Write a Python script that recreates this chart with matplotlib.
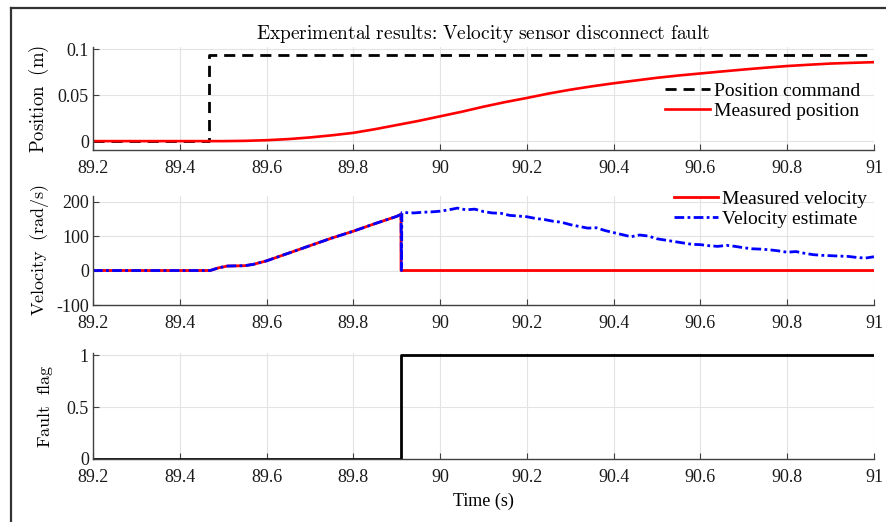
import matplotlib
matplotlib.use("Agg")
import matplotlib.pyplot as plt
from matplotlib.lines import Line2D

plt.rcParams['font.family'] = ['Liberation Serif', 'DejaVu Serif']
plt.rcParams['mathtext.fontset'] = 'cm'

# ---------------- data ----------------
cmd_t = [89.2, 89.468, 89.468, 91.0]
cmd_pos = [0.0, 0.0, 0.0937, 0.0937]

pos_t = [89.2, 89.5, 89.55, 89.6, 89.65, 89.7, 89.75, 89.8, 89.85, 89.9, 89.95,
         90.0, 90.05, 90.1, 90.15, 90.2, 90.25, 90.3, 90.35, 90.4, 90.45, 90.5,
         90.55, 90.6, 90.65, 90.7, 90.75, 90.8, 90.85, 90.9, 90.95, 91.0]
pos_meas = [0.0, 0.0, 0.0003, 0.001, 0.0022, 0.004, 0.0063, 0.009, 0.013, 0.0175, 0.022,
            0.027, 0.032, 0.0375, 0.0425, 0.047, 0.0518, 0.056, 0.0597, 0.063, 0.066, 0.069,
            0.0715, 0.0737, 0.0759, 0.078, 0.080, 0.0818, 0.0832, 0.0845, 0.0853, 0.086]

vel_meas_t = [89.2, 89.47, 89.49, 89.51, 89.55, 89.57, 89.6, 89.65, 89.7, 89.75, 89.8,
              89.85, 89.9, 89.91, 89.91, 91.0]
vel_meas = [0, 0, 8, 13, 14, 18, 28, 50, 72, 94, 114, 136, 157, 163, 0, 0]

vel_est_t = [89.2, 89.47, 89.49, 89.51, 89.55, 89.57, 89.6, 89.65, 89.7, 89.75, 89.8,
             89.85, 89.9, 89.91, 89.911, 89.912,
             89.92, 89.94, 89.96, 89.98, 90.00, 90.02, 90.04, 90.06, 90.08, 90.10,
             90.12, 90.14, 90.16, 90.18, 90.20, 90.22, 90.24, 90.26, 90.28, 90.30,
             90.32, 90.34, 90.36, 90.38, 90.40, 90.42, 90.44, 90.46, 90.48, 90.50,
             90.52, 90.54, 90.56, 90.58, 90.60, 90.62, 90.64, 90.66, 90.68, 90.70,
             90.72, 90.74, 90.76, 90.78, 90.80, 90.82, 90.84, 90.86, 90.88, 90.90,
             90.92, 90.94, 90.96, 90.98, 91.00]
vel_est = [0, 0, 8, 13, 14, 18, 28, 50, 72, 94, 114, 136, 157, 163, 0, 168,
           168, 167, 169, 170, 172, 176, 181, 176, 178, 171,
           167, 166, 160, 158, 156, 151, 148, 143, 140, 133,
           128, 123, 124, 116, 110, 104, 98, 103, 100, 92,
           88, 84, 80, 76, 75, 72, 70, 73, 70, 66,
           63, 62, 60, 57, 53, 55, 50, 46, 44, 43,
           42, 41, 38, 36, 40]

flag_t = [89.2, 89.91, 89.91, 91.0]
flag = [0, 0, 1, 1]

xticks = [89.2, 89.4, 89.6, 89.8, 90.0, 90.2, 90.4, 90.6, 90.8, 91.0]
xticklabels = ['89.2', '89.4', '89.6', '89.8', '90', '90.2', '90.4', '90.6', '90.8', '91']

# ---------------- figure ----------------
fig = plt.figure(figsize=(8.87, 5.22), dpi=100)
fig.patch.set_facecolor('white')

L, W = 0.1048, 0.8805
ax1 = fig.add_axes([L, 0.7126, W, 0.1973])
ax2 = fig.add_axes([L, 0.4157, W, 0.2094])
ax3 = fig.add_axes([L, 0.1207, W, 0.2030])

spine_c = '#404040'
for ax in (ax1, ax2, ax3):
    ax.set_xlim(89.2, 91.0)
    ax.set_xticks(xticks)
    ax.set_xticklabels(xticklabels)
    for s in ('top', 'right'):
        ax.spines[s].set_visible(False)
    for s in ('left', 'bottom'):
        ax.spines[s].set_color(spine_c)
        ax.spines[s].set_linewidth(1.0)
    ax.tick_params(direction='in', length=4, width=0.8, colors=spine_c,
                   labelcolor='#1a1a1a', labelsize=13)
    ax.tick_params(axis='x', pad=7)
    ax.tick_params(axis='y', pad=3)
    ax.grid(True, color='#e3e3e3', linewidth=0.8)
    ax.set_axisbelow(True)

# Top
ax1.plot(cmd_t, cmd_pos, color='black', linestyle=(0, (4, 2.5)), linewidth=2.0,
         label='Position command')
ax1.plot(pos_t, pos_meas, color='red', linewidth=1.9, label='Measured position')
ax1.set_ylim(-0.0097, 0.1025)
ax1.set_yticks([0, 0.05, 0.1])
ax1.set_yticklabels(['0', '0.05', '0.1'])
ax1.set_ylabel(r'$\mathrm{Position\ \ (m)}$', fontsize=13.5)
ax1.yaxis.set_label_coords(-0.054, 0.5)
ax1.set_title(r'$\mathrm{Experimental\ results}$:$\ \mathrm{Velocity\ sensor\ disconnect\ fault}$',
              fontsize=14, pad=6)
ax1.legend(loc='upper right', bbox_to_anchor=(0.985, 0.868), bbox_transform=fig.transFigure,
           frameon=False, fontsize=14, handlelength=2.3, handletextpad=0.2,
           labelspacing=0.1, borderpad=0.2)

# Middle
ax2.plot(vel_meas_t, vel_meas, color='red', linewidth=2.0, label='Measured velocity')
ax2.plot(vel_est_t, vel_est, color='blue', linestyle=(0, (3.5, 1.2, 1, 1.2)), linewidth=2.0,
         label='Velocity estimate')
ax2.set_ylim(-100, 217)
ax2.set_yticks([-100, 0, 100, 200])
ax2.set_yticklabels(['-100', '0', '100', '200'])
ax2.set_ylabel(r'$\mathrm{Velocity\ \ (rad/s)}$', fontsize=13)
ax2.yaxis.set_label_coords(-0.054, 0.5)
ax2.legend(loc='upper right', bbox_to_anchor=(0.993, 0.661), bbox_transform=fig.transFigure,
           frameon=False, fontsize=14, handlelength=2.3, handletextpad=0.2,
           labelspacing=0.1, borderpad=0.2)

# Bottom
ax3.plot(flag_t, flag, color='black', linewidth=2.0)
ax3.set_ylim(0, 1.02)
ax3.set_yticks([0, 0.5, 1])
ax3.set_yticklabels(['0', '0.5', '1'])
ax3.set_ylabel(r'$\mathrm{Fault\ \ flag}$', fontsize=13)
ax3.yaxis.set_label_coords(-0.048, 0.5)
ax3.set_xlabel('Time (s)', fontsize=13, labelpad=5)

# outer frame (partially visible border)
fig.add_artist(Line2D([11 / 887, 11 / 887], [0, 1 - 8 / 522], transform=fig.transFigure,
                      color='#333333', linewidth=1.6))
fig.add_artist(Line2D([11 / 887, 1], [1 - 8 / 522, 1 - 8 / 522], transform=fig.transFigure,
                      color='#333333', linewidth=1.6))

fig.savefig('out.png', dpi=100)
